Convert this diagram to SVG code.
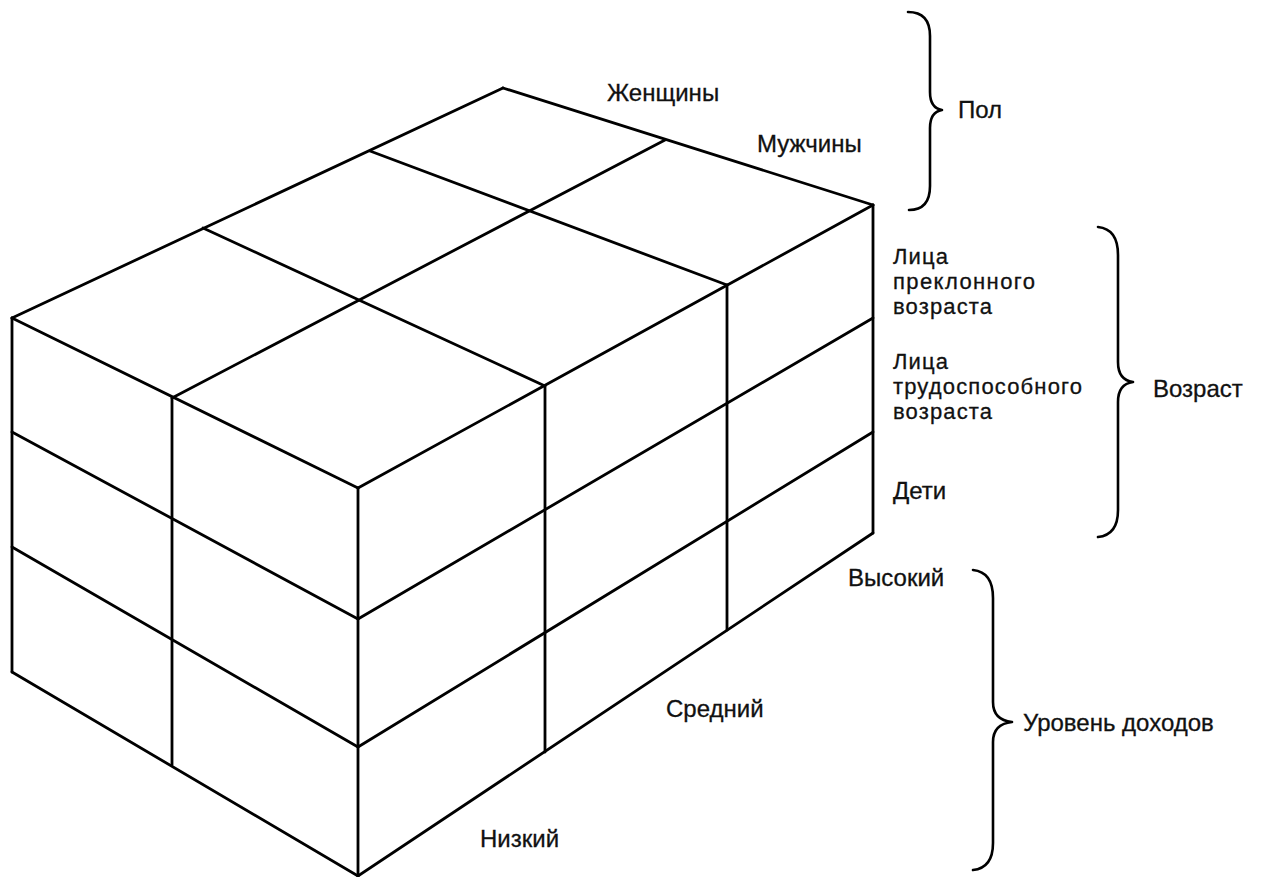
<svg xmlns="http://www.w3.org/2000/svg" width="1263" height="877" viewBox="0 0 1263 877">
  <style>
    .edge { stroke: #000; stroke-width: 2.8; stroke-linecap: round; fill: none; }
    .brace { stroke: #000; stroke-width: 2.6; stroke-linecap: round; stroke-linejoin: round; fill: none; }
    .lbl { font-family: "Liberation Sans", Arial, sans-serif; font-size: 24px; fill: #111; stroke: #111; stroke-width: 0.3; }
    .lbl.sm { font-size: 22px; }
  </style>
  <rect width="1263" height="877" fill="#fff"/>

  <g id="cube">
    <g id="top-face">
      <line class="edge" x1="503" y1="88" x2="873" y2="205"/>
      <line class="edge" x1="503" y1="88" x2="12" y2="318"/>
      <line class="edge" x1="12" y1="318" x2="358" y2="488"/>
      <line class="edge" x1="873" y1="205" x2="358" y2="488"/>
      <line class="edge" x1="665" y1="140" x2="172" y2="398"/>
      <line class="edge" x1="370" y1="151" x2="727" y2="285"/>
      <line class="edge" x1="203" y1="228" x2="545" y2="386"/>
    </g>
    <g id="left-face">
      <line class="edge" x1="12" y1="432" x2="358" y2="619"/>
      <line class="edge" x1="12" y1="547" x2="358" y2="747"/>
      <line class="edge" x1="12" y1="672" x2="358" y2="876"/>
      <line class="edge" x1="12" y1="318" x2="12" y2="672"/>
      <line class="edge" x1="172" y1="398" x2="172" y2="765"/>
      <line class="edge" x1="358" y1="488" x2="358" y2="876"/>
    </g>
    <g id="right-face">
      <line class="edge" x1="358" y1="619" x2="873" y2="318"/>
      <line class="edge" x1="358" y1="747" x2="873" y2="432"/>
      <line class="edge" x1="358" y1="876" x2="873" y2="533"/>
      <line class="edge" x1="545" y1="386" x2="545" y2="752"/>
      <line class="edge" x1="727" y1="285" x2="727" y2="630"/>
      <line class="edge" x1="873" y1="205" x2="873" y2="533"/>
    </g>
  </g>

  <g id="axis-labels">
    <text class="lbl" x="607" y="101">Женщины</text>
    <text class="lbl" x="757" y="152">Мужчины</text>
    <text class="lbl sm" x="893" y="264" textLength="55">Лица</text>
    <text class="lbl sm" x="893" y="289" textLength="142">преклонного</text>
    <text class="lbl sm" x="893" y="314" textLength="99">возраста</text>
    <text class="lbl sm" x="893" y="369" textLength="55">Лица</text>
    <text class="lbl sm" x="893" y="394" textLength="189">трудоспособного</text>
    <text class="lbl sm" x="893" y="419" textLength="99">возраста</text>
    <text class="lbl" x="893" y="499">Дети</text>
    <text class="lbl" x="848" y="586">Высокий</text>
    <text class="lbl" x="666" y="717">Средний</text>
    <text class="lbl" x="480" y="847">Низкий</text>
  </g>

  <g id="brace-pol">
    <path class="brace" d="M908,12 Q930,12 930,36 L930,92 Q930,108 942,110 Q930,112 930,128 L930,186 Q930,210 909,210"/>
    <text class="lbl" x="958" y="118">Пол</text>
  </g>
  <g id="brace-vozrast">
    <path class="brace" d="M1098,227 Q1118,229 1118,255 L1118,362 Q1118,380 1133,382 Q1118,384 1118,402 L1118,510 Q1118,535 1098,537"/>
    <text class="lbl" x="1153" y="397">Возраст</text>
  </g>
  <g id="brace-dohod">
    <path class="brace" d="M973,570 Q993,572 993,598 L993,702 Q993,720 1012,722 Q993,724 993,742 L993,843 Q993,868 973,870"/>
    <text class="lbl" x="1023" y="731">Уровень доходов</text>
  </g>
</svg>
